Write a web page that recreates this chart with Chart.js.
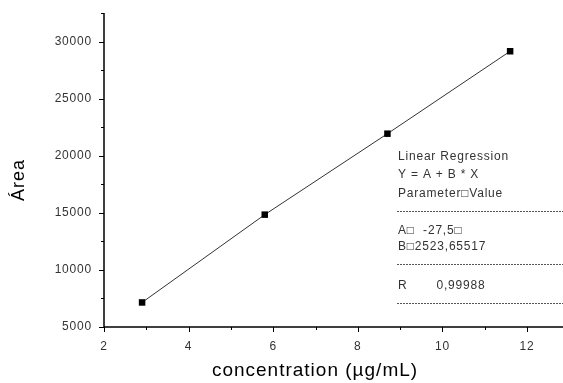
<!DOCTYPE html>
<html>
<head>
<meta charset="utf-8">
<script src="https://cdn.jsdelivr.net/npm/chart.js@4"></script>
<style>
  html, body { margin: 0; padding: 0; background: #fff; }
  #wrap { width: 563px; height: 383px; }
</style>
</head>
<body>
<div id="wrap"><canvas id="chartReg"></canvas></div>
<script>
const concentration = [2.9, 5.8, 8.7, 11.6];
const area = [7150, 14840, 21930, 29150];
const xTicks = [2, 4, 6, 8, 10, 12];
const yTicks = [5000, 10000, 15000, 20000, 25000, 30000];
const xTitle = 'concentration (\u00B5g/mL)';
const yTitle = '\u00C1rea';
const fitLines = [
  'Linear Regression',
  'Y = A + B * X',
  'Parameter\u25A1Value',
  '---',
  'A\u25A1  -27,5\u25A1',
  'B\u25A12523,65517',
  '---',
  'R       0,99988',
  '---'
];

const font = "'Liberation Sans', Arial, sans-serif";

// wider glyph spacing for the tick labels, like the original
const spacingPlugin = {
  id: 'spacing',
  beforeDraw(chart) { chart.ctx.letterSpacing = '0.8px'; }
};

// axis lines, minor + major ticks pointing out, axis titles
const axisPlugin = {
  id: 'axisMarks',
  afterDraw(chart) {
    const ctx = chart.ctx;
    const x = chart.scales.x, y = chart.scales.y;
    const area = chart.chartArea;
    ctx.save();
    ctx.strokeStyle = '#000';
    ctx.lineWidth = 1.5;
    ctx.beginPath();
    ctx.moveTo(area.left, area.top);
    ctx.lineTo(area.left, area.bottom);
    ctx.lineTo(area.right, area.bottom);
    ctx.stroke();
    ctx.lineWidth = 1;
    for (let v = 2; v <= 12; v += 1) {
      const px = Math.round(x.getPixelForValue(v)) + 0.5;
      const len = v % 2 === 0 ? 5 : 3;
      ctx.beginPath();
      ctx.moveTo(px, area.bottom);
      ctx.lineTo(px, area.bottom + len);
      ctx.stroke();
    }
    for (let v = 5000; v <= 32500; v += 2500) {
      const py = Math.round(y.getPixelForValue(v)) + 0.5;
      const len = v % 5000 === 0 ? 5 : 3;
      ctx.beginPath();
      ctx.moveTo(area.left, py);
      ctx.lineTo(area.left - len, py);
      ctx.stroke();
    }

    ctx.fillStyle = '#000';
    ctx.textAlign = 'center';
    ctx.textBaseline = 'middle';
    ctx.letterSpacing = '1px';
    ctx.font = '19px ' + font;
    ctx.fillText(xTitle, 315, 371);
    ctx.translate(19, 180);
    ctx.rotate(-Math.PI / 2);
    ctx.font = '18px ' + font;
    ctx.fillText(yTitle, 0, 0);
    ctx.restore();
  }
};

const boxPlugin = {
  id: 'fitBox',
  afterDraw(chart) {
    const ctx = chart.ctx;
    ctx.save();
    ctx.font = '12px ' + font;
    ctx.letterSpacing = '0.8px';
    ctx.fillStyle = '#333';
    ctx.textAlign = 'left';
    ctx.textBaseline = 'middle';
    const left = 398;
    let yy = 155;
    const steps = [18, 19, 19, 18, 16, 19, 20, 19, 0];
    fitLines.forEach((line, i) => {
      if (line === '---') {
        ctx.strokeStyle = '#555';
        ctx.lineWidth = 1;
        ctx.setLineDash([2, 1]);
        ctx.beginPath();
        ctx.moveTo(left - 1, Math.round(yy) + 0.5);
        ctx.lineTo(563, Math.round(yy) + 0.5);
        ctx.stroke();
        ctx.setLineDash([]);
      } else {
        ctx.fillText(line, left, yy + 2);
      }
      yy += steps[i];
    });
    ctx.restore();
  }
};

new Chart(document.getElementById('chartReg'), {
  type: 'scatter',
  data: {
    datasets: [{
      data: concentration.map((c, i) => ({ x: c, y: area[i] })),
      showLine: true,
      borderColor: '#333',
      borderWidth: 1,
      pointStyle: 'rect',
      pointRadius: 4.6,
      pointBackgroundColor: '#000',
      pointBorderColor: '#000',
      pointBorderWidth: 0
    }]
  },
  options: {
    responsive: true,
    maintainAspectRatio: false,
    animation: false,
    layout: { autoPadding: false, padding: { top: 13, right: 0, left: 0, bottom: 0 } },
    plugins: { legend: { display: false }, tooltip: { enabled: false } },
    scales: {
      x: {
        type: 'linear',
        min: 2,
        max: 12.85,
        afterBuildTicks: (s) => { s.ticks = xTicks.map(v => ({ value: v })); },
        afterFit: (s) => { s.height = 56; s.paddingLeft = 0; s.paddingRight = 0; },
        border: { display: false },
        grid: { display: false, drawTicks: false },
        ticks: {
          color: '#333',
          font: { family: font, size: 12 },
          padding: 12,
          maxRotation: 0,
          callback: (v) => String(v)
        }
      },
      y: {
        type: 'linear',
        min: 5000,
        max: 32500,
        afterBuildTicks: (s) => { s.ticks = yTicks.map(v => ({ value: v })); },
        afterFit: (s) => { s.width = 104; s.paddingTop = 0; s.paddingBottom = 0; },
        border: { display: false },
        grid: { display: false, drawTicks: false },
        ticks: {
          color: '#333',
          font: { family: font, size: 12 },
          padding: 12,
          callback: (v) => String(v)
        }
      }
    }
  },
  plugins: [spacingPlugin, axisPlugin, boxPlugin]
});
</script>
</body>
</html>
